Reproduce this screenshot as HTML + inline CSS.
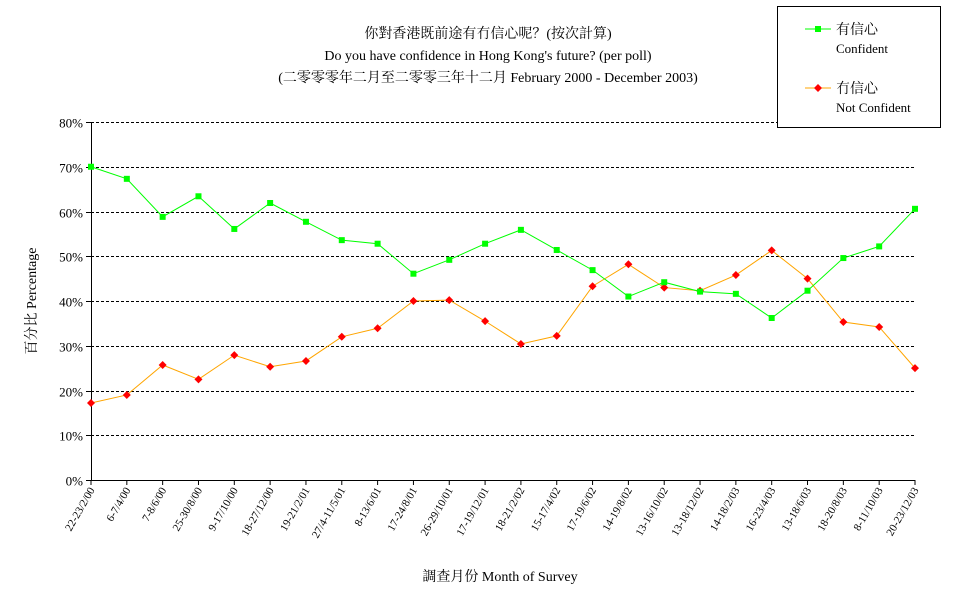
<!DOCTYPE html>
<html><head><meta charset="utf-8">
<style>
body{margin:0;background:#fff;}
svg{display:block;font-family:"Liberation Serif","Noto Serif CJK SC","Noto Sans CJK TC",serif;}
</style></head>
<body>
<svg id="chart" width="977" height="600" viewBox="0 0 977 600" xmlns="http://www.w3.org/2000/svg">
<g font-size="14" text-anchor="middle" fill="#000">
<text x="488" y="38">你對香港既前途有冇信心呢？(按次計算)</text>
<text x="488" y="60">Do you have confidence in Hong Kong's future? (per poll)</text>
<text x="488" y="82">(二零零零年二月至二零零三年十二月 February 2000 - December 2003)</text>
</g>
<g id="grid"></g>
<g id="yticks" font-size="13" text-anchor="end"></g>
<g id="xticks" font-size="11"></g>
<text transform="translate(36,301) rotate(-90)" font-size="14" text-anchor="middle">百分比 Percentage</text>
<text x="500" y="581" font-size="14" text-anchor="middle">調查月份 Month of Survey</text>
<g id="series"></g>
<g>
<rect x="777.5" y="6.5" width="163" height="121" fill="#fff" stroke="#000"/>
<g>
<line x1="805" y1="29" x2="831" y2="29" stroke="#00ff00"/>
<rect x="815" y="26" width="6" height="6" fill="#00ff00"/>
<text x="836" y="34" font-size="14">有信心</text>
<text x="836" y="53" font-size="13">Confident</text>
</g>
<g>
<line x1="805" y1="88" x2="831" y2="88" stroke="#ffa500"/>
<polygon points="818,84 822,88 818,92 814,88" fill="#ff0000"/>
<text x="836" y="93" font-size="14">冇信心</text>
<text x="836" y="112" font-size="13">Not Confident</text>
</g>
</g>
</svg>
<script>
const categories=["22-23/2/00","6-7/4/00","7-8/6/00","25-30/8/00","9-17/10/00","18-27/12/00","19-21/2/01","27/4-11/5/01","8-13/6/01","17-24/8/01","26-29/10/01","17-19/12/01","18-21/2/02","15-17/4/02","17-19/6/02","14-19/8/02","13-16/10/02","13-18/12/02","14-18/2/03","16-23/4/03","13-18/6/03","18-20/8/03","8-11/10/03","20-23/12/03"];
const confident=[70.0,67.3,58.8,63.4,56.1,61.9,57.7,53.6,52.8,46.1,49.2,52.8,55.9,51.4,46.9,41.0,44.2,42.1,41.6,36.2,42.3,49.6,52.2,60.6];
const notConfident=[17.2,19.0,25.7,22.5,27.9,25.3,26.6,32.0,33.9,40.0,40.2,35.5,30.4,32.2,43.3,48.2,43.0,42.3,45.8,51.3,45.0,35.3,34.2,25.0];
const yTicks=[0,10,20,30,40,50,60,70,80];
const NS="http://www.w3.org/2000/svg";
const L=91,R=915,T=122,B=480,YMAX=80;
function xs(i){return L+i*(R-L)/(categories.length-1);}
function ys(v){return B-v/YMAX*(B-T);}
function mk(tag,attrs,parent){const e=document.createElementNS(NS,tag);for(const k in attrs)e.setAttribute(k,attrs[k]);parent.appendChild(e);return e;}
const grid=document.getElementById('grid'),yt=document.getElementById('yticks'),xt=document.getElementById('xticks'),ser=document.getElementById('series');
yTicks.forEach(v=>{
 const y=Math.round(ys(v))+0.5;
 if(v>0){const g=mk('line',{x1:L,x2:R,y1:y,y2:y,stroke:'#000','stroke-dasharray':'3,2'},grid);
 
 }
 mk('line',{x1:L-5,x2:L,y1:y,y2:y,stroke:'#000'},yt);
 const t=mk('text',{x:L-8,y:y+5},yt);t.textContent=v+'%';
 
 
});
const ax=mk('line',{x1:L+0.5,x2:L+0.5,y1:T,y2:B,stroke:'#000'},grid);


const bx=mk('line',{x1:L,x2:R,y1:B+0.5,y2:B+0.5,stroke:'#000'},grid);


categories.forEach((c,i)=>{
 const x=xs(i);
 mk('line',{x1:x,x2:x,y1:B,y2:B+5,stroke:'#000'},xt);
 const t=mk('text',{x:0,y:0,'text-anchor':'end',transform:`translate(${x+4},${B+10}) rotate(-60)`},xt);
 t.textContent=c;
 
 
});
function draw(vals,color,mcolor,shape,name){
 const pl=mk('polyline',{points:vals.map((v,i)=>xs(i)+','+ys(v)).join(' '),fill:'none',stroke:color},ser);
 
 
 vals.forEach((v,i)=>{
  const x=xs(i),y=ys(v);let m;
  if(shape==='sq')m=mk('rect',{x:x-3,y:y-3,width:6,height:6,fill:mcolor},ser);
  else m=mk('polygon',{points:`${x},${y-4} ${x+4},${y} ${x},${y+4} ${x-4},${y}`,fill:mcolor},ser);
  
  
 });
}
draw(notConfident,'#ffa500','#ff0000','di','not-confident');
draw(confident,'#00ff00','#00ff00','sq','confident');
</script>
</body></html>
